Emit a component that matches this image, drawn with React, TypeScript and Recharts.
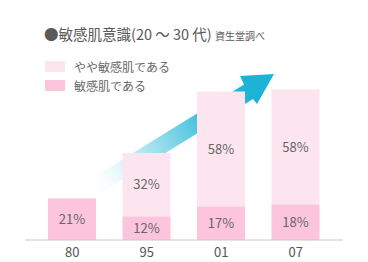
import React from 'react';
import { BarChart, Bar, XAxis, YAxis, LabelList } from 'recharts';

const years = ['80', '95', '01', '07'];
const sensitive = [21, 12, 17, 18];
const slightlySensitive = [null, 32, 58, 58];

const title = '●敏感肌意識(20 ～ 30 代) ';
const source = '資生堂調べ';
const legendItems = [
    { name: 'やや敏感肌である', color: '#fde5f0' },
    { name: '敏感肌である', color: '#fcc5dd' },
];

const data = years.map((year, i) => ({
    year,
    sensitive: sensitive[i],
    slight: slightlySensitive[i],
}));

const pct = (v: any) => (v == null ? '' : `${v}%`);
const font = '"Noto Sans CJK JP", "Noto Sans", sans-serif';

function Arrow() {
    return <svg width={368} height={262} style={{ position: 'absolute', left: 0, top: 0 }}>
        <defs>
            <linearGradient id="arrowFade" gradientUnits="userSpaceOnUse" x1={88} y1={190} x2={250} y2={92}>
                <stop offset="0" stopColor="#ffffff" stopOpacity={0} />
                <stop offset="0.3" stopColor="#c6ecf4" />
                <stop offset="0.7" stopColor="#45c2dd" />
                <stop offset="1" stopColor="#1cb3d6" />
            </linearGradient>
        </defs>
        <polygon
            points="81,185 244,84.5 240,76 274,74 257,104 253,99 90,199.5"
            fill="url(#arrowFade)"
        />
    </svg>
}

export default function App() {
    return <div style={{ position: 'absolute', left: 0, top: 0, width: 368, height: 262, fontFamily: font }}>
        <Arrow />
        <div style={{ position: 'absolute', left: 44, top: 23, color: '#5a5a5a', fontSize: 14.5, whiteSpace: 'nowrap' }}>
            {title}<span style={{ fontSize: 10 }}>{source}</span>
        </div>
        {legendItems.map((item, i) => (
            <div key={item.name} style={{ position: 'absolute', left: 45, top: 58 + i * 19, display: 'flex', alignItems: 'center', color: '#666', fontSize: 12 }}>
                <span style={{ display: 'inline-block', width: 20, height: 11, background: item.color, marginRight: 9 }} />
                {item.name}
            </div>
        ))}
        <div style={{ position: 'absolute', left: 0, top: 0 }}>
            <BarChart width={368} height={262} data={data} margin={{ top: 42, right: 25, left: 25, bottom: 0 }} barSize={48}>
                <XAxis dataKey="year" height={22} tickLine={false} padding={{ left: 10, right: 10 }}
                    axisLine={{ stroke: '#c8c8c8' }} tick={{ fill: '#555', fontSize: 13, fontFamily: font }} />
                <YAxis hide domain={[0, 100]} />
                <Bar dataKey="sensitive" stackId="a" fill="#fcc5dd" isAnimationActive={false}>
                    <LabelList dataKey="sensitive" position="center" formatter={pct} fill="#666" fontSize={13} fontFamily={font} />
                </Bar>
                <Bar dataKey="slight" stackId="a" fill="#fde5f0" isAnimationActive={false}>
                    <LabelList dataKey="slight" position="center" formatter={pct} fill="#666" fontSize={13} fontFamily={font} />
                </Bar>
            </BarChart>
        </div>
    </div>
}
